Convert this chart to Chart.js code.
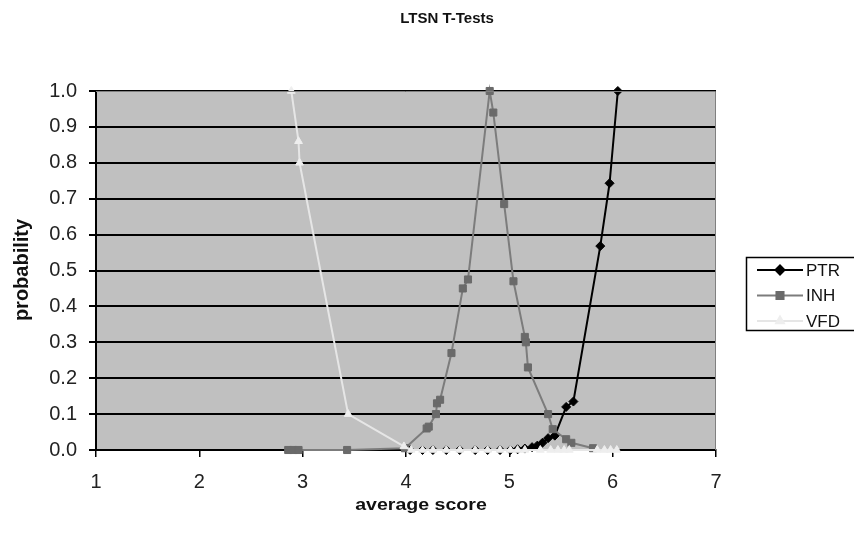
<!DOCTYPE html>
<html>
<head>
<meta charset="utf-8">
<title>LTSN T-Tests</title>
<script src="https://cdn.jsdelivr.net/npm/chart.js@4.4.1/dist/chart.umd.min.js"></script>
<style>
  html, body { margin: 0; padding: 0; background: #fff; }
  #wrap { width: 854px; height: 535px; position: relative; }
</style>
</head>
<body>
<div id="wrap"><canvas id="grafico" width="854" height="535"></canvas></div>
<script>
// valores
const ptrX = [4.04, 4.16, 4.26, 4.39, 4.52, 4.67, 4.79, 4.91, 5.01, 5.08, 5.15, 5.22, 5.27, 5.32, 5.375, 5.44, 5.55, 5.62, 5.88, 5.97, 6.05];
const ptrY = [0, 0, 0, 0, 0, 0, 0, 0, 0, 0.002, 0.004, 0.008, 0.012, 0.02, 0.033, 0.04, 0.12, 0.135, 0.568, 0.743, 1.0];

const inhX = [2.86, 2.91, 2.96, 3.43, 3.99, 4.20, 4.22, 4.29, 4.30, 4.33, 4.44, 4.55, 4.60, 4.81, 4.845, 4.95, 5.04, 5.15, 5.16, 5.18, 5.375, 5.42, 5.55, 5.60, 5.81];
const inhY = [0, 0, 0, 0, 0.005, 0.06, 0.065, 0.10, 0.13, 0.14, 0.27, 0.45, 0.475, 1.0, 0.94, 0.685, 0.47, 0.315, 0.30, 0.23, 0.10, 0.058, 0.03, 0.02, 0.005];

const vfdX = [2.89, 2.96, 2.97, 3.44, 3.98, 4.05, 4.16, 4.26, 4.39, 4.52, 4.67, 4.79, 4.91, 5.01, 5.08, 5.15, 5.30, 5.40, 5.47, 5.53, 5.58, 5.85, 5.92, 5.98, 6.04];
const vfdY = [1.0, 0.86, 0.80, 0.10, 0.01, 0, 0, 0, 0, 0, 0, 0, 0, 0, 0, 0, 0, 0, 0, 0, 0, 0, 0, 0, 0];

const xTicks = [1, 2, 3, 4, 5, 6, 7];
const yTicks = [0, 0.1, 0.2, 0.3, 0.4, 0.5, 0.6, 0.7, 0.8, 0.9, 1.0];

// ordem: PTR fica por baixo, VFD por cima (como no Excel)
const series = [
  { label: 'PTR', xs: ptrX, ys: ptrY, line: '#000000', fill: '#000000', marker: 'rectRot', size: 4.5, order: 3 },
  { label: 'INH', xs: inhX, ys: inhY, line: '#7c7c7c', fill: '#6a6a6a', marker: 'rect', size: 5, order: 2 },
  { label: 'VFD', xs: vfdX, ys: vfdY, line: '#e6e6e6', fill: '#eeeeee', marker: 'triangle', size: 4.5, order: 1 }
];

const fonteBase = '"Liberation Sans", Arial, sans-serif';

// fundo cinza da área de plotagem + títulos + legenda
const pluginMoldura = {
  id: 'moldura',
  beforeDraw(chart) {
    const { ctx, chartArea: a } = chart;
    ctx.save();
    ctx.fillStyle = '#c0c0c0';
    ctx.fillRect(a.left, a.top, a.right - a.left, a.bottom - a.top);
    ctx.restore();
  },
  afterDraw(chart) {
    const { ctx, chartArea: a } = chart;
    ctx.save();
    ctx.strokeStyle = '#808080';
    ctx.lineWidth = 1;
    ctx.beginPath();
    ctx.moveTo(a.left, a.top + 0.5);
    ctx.lineTo(a.right - 0.5, a.top + 0.5);
    ctx.lineTo(a.right - 0.5, a.bottom);
    ctx.stroke();

    ctx.fillStyle = '#111';
    ctx.textAlign = 'center';
    ctx.textBaseline = 'middle';
    ctx.font = 'bold 15px ' + fonteBase;
    ctx.fillText('LTSN T-Tests', 447, 19);

    // título do eixo x, um pouco esticado na horizontal como no original
    ctx.save();
    ctx.translate(421, 505);
    ctx.scale(1.15, 1);
    ctx.font = 'bold 17px ' + fonteBase;
    ctx.fillText('average score', 0, 0);
    ctx.restore();

    ctx.translate(22, 270);
    ctx.rotate(-Math.PI / 2);
    ctx.font = 'bold 20px ' + fonteBase;
    ctx.fillText('probability', 0, 0);
    ctx.restore();

    // legenda
    ctx.save();
    ctx.strokeStyle = '#000';
    ctx.lineWidth = 1.5;
    ctx.strokeRect(746.5, 257.5, 120, 73);
    ctx.font = '17px ' + fonteBase;
    ctx.textAlign = 'left';
    ctx.textBaseline = 'middle';
    const ordem = series.map(s => s.label);
    ordem.forEach((nome, i) => {
      const ds = chart.data.datasets.find(d => d.label === nome);
      const y = 270 + i * 25.5;
      ctx.strokeStyle = ds.borderColor;
      ctx.lineWidth = 2;
      ctx.beginPath();
      ctx.moveTo(757, y);
      ctx.lineTo(803, y);
      ctx.stroke();
      ctx.fillStyle = ds.pointBackgroundColor;
      ctx.strokeStyle = ds.pointBorderColor;
      Chart.helpers.drawPoint(ctx, {
        pointStyle: ds.pointStyle, rotation: 0, radius: ds.pointRadius,
        borderWidth: 1
      }, 780, y);
      ctx.fillStyle = '#111';
      ctx.fillText(ds.label, 806, y + 1);
    });
    ctx.restore();
  }
};

const conjuntos = series.map(s => ({
  label: s.label,
  data: s.xs.map((x, i) => ({ x: x, y: s.ys[i] })),
  showLine: true,
  order: s.order,
  borderColor: s.line,
  backgroundColor: s.fill,
  pointBackgroundColor: s.fill,
  pointBorderColor: s.fill,
  borderWidth: 2,
  pointStyle: s.marker,
  pointRadius: s.size,
  pointBorderWidth: 1,
  pointHoverRadius: s.size,
  tension: 0,
  clip: false
}));

const ctx = document.getElementById('grafico').getContext('2d');
const grafico = new Chart(ctx, {
  type: 'scatter',
  data: { datasets: conjuntos },
  plugins: [pluginMoldura],
  options: {
    responsive: false,
    animation: false,
    layout: { padding: { top: 91, right: 138, left: 0, bottom: 0 } },
    plugins: {
      legend: { display: false },
      tooltip: { enabled: false }
    },
    scales: {
      x: {
        type: 'linear',
        min: 1,
        max: 7,
        afterBuildTicks: (scale) => { scale.ticks = xTicks.map(v => ({ value: v })); },
        afterFit: (scale) => { scale.height = 85; },
        grid: { drawOnChartArea: false, drawTicks: true, tickLength: 7, color: '#000', lineWidth: 1.5 },
        border: { color: '#000', width: 2 },
        ticks: { color: '#222', font: { family: fonteBase, size: 20 }, padding: 13 }
      },
      y: {
        min: 0,
        max: 1,
        afterBuildTicks: (scale) => { scale.ticks = yTicks.map(v => ({ value: v })); },
        afterFit: (scale) => { scale.width = 96; },
        grid: { color: '#000', lineWidth: 2, tickLength: 7 },
        border: { color: '#000', width: 2 },
        ticks: {
          color: '#222',
          font: { family: fonteBase, size: 20 },
          padding: 12,
          callback: (v) => Number(v).toFixed(1)
        }
      }
    }
  }
});
</script>
</body>
</html>
